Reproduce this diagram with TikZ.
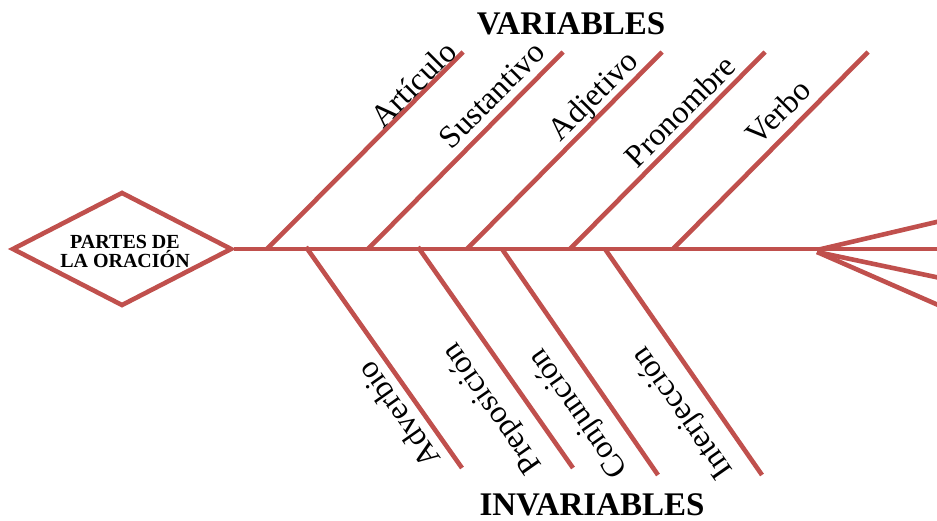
\documentclass[tikz,border=0pt]{standalone}
\usepackage{fontspec}
\setmainfont{Liberation Serif}
\usetikzlibrary{shapes.geometric}
\definecolor{bone}{RGB}{192,80,77}
\begin{document}
\begin{tikzpicture}[x=1pt,y=-1pt,
  bonel/.style={draw=bone,line width=4.6pt},
  lbl/.style={font=\fontsize{32}{36}\selectfont,inner sep=0pt},
  upl/.style={lbl,rotate=45},
  lowl/.style={lbl,rotate=125},
  ttl/.style={font=\bfseries\fontsize{33}{36}\selectfont,inner sep=0pt}]
\useasboundingbox (0,0) rectangle (937,521);
\node[draw=bone,line width=4.6pt,shape=diamond,shape aspect=1.93,
      minimum width=220pt,minimum height=114pt,inner sep=0pt] (d) at (122,249) {};
\node[align=center,inner sep=0pt,font=\bfseries\fontsize{20}{19}\selectfont]
      (dt) at (125,251) {PARTES DE\\LA ORACIÓN};
% spine
\coordinate (e) at (945,249);
\draw[bonel] (d.east) -- (e);
% tail
\coordinate (t0) at (817,250);
\coordinate (t0b) at (817,252);
\coordinate (t1) at (945,220);
\coordinate (t2) at (945,279);
\coordinate (t3) at (945,308);
\draw[bonel] (t0) -- (t1);
\draw[bonel] (t0b) -- (t2);
\draw[bonel] (t0b) -- (t3);
% upper bones
\coordinate (u1a) at (267,249); \coordinate (u1b) at (463,52);
\coordinate (u2a) at (368,249); \coordinate (u2b) at (563,52);
\coordinate (u3a) at (467,249); \coordinate (u3b) at (662,52);
\coordinate (u4a) at (570,249); \coordinate (u4b) at (765,52);
\coordinate (u5a) at (673,249); \coordinate (u5b) at (868,52);
\foreach \i in {1,...,5} {\draw[bonel] (u\i a) -- (u\i b);}
% lower bones
\coordinate (l1a) at (306,247); \coordinate (l1b) at (462,468);
\coordinate (l2a) at (418,247); \coordinate (l2b) at (573,468);
\coordinate (l3a) at (502,249); \coordinate (l3b) at (658,475);
\coordinate (l4a) at (605,249); \coordinate (l4b) at (762,475);
\foreach \i in {1,...,4} {\draw[bonel] (l\i a) -- (l\i b);}
% labels
\node[upl] (art) at (413,84) {Artículo};
\node[upl] (sus) at (492,95) {Sustantivo};
\node[upl] (adj) at (595,97) {Adjetivo};
\node[upl] (pro) at (680,111) {Pronombre};
\node[upl] (ver) at (778,112) {Verbo};
\node[lowl] (adv) at (398,415) {Adverbio};
\node[lowl] (pre) at (493,408) {Preposición};
\node[lowl] (con) at (579,413) {Conjunción};
\node[lowl] (int) at (683,412) {Interjección};
\node[ttl] (var) at (571,24) {VARIABLES};
\node[ttl] (inv) at (592,505) {INVARIABLES};
\end{tikzpicture}
\end{document}
